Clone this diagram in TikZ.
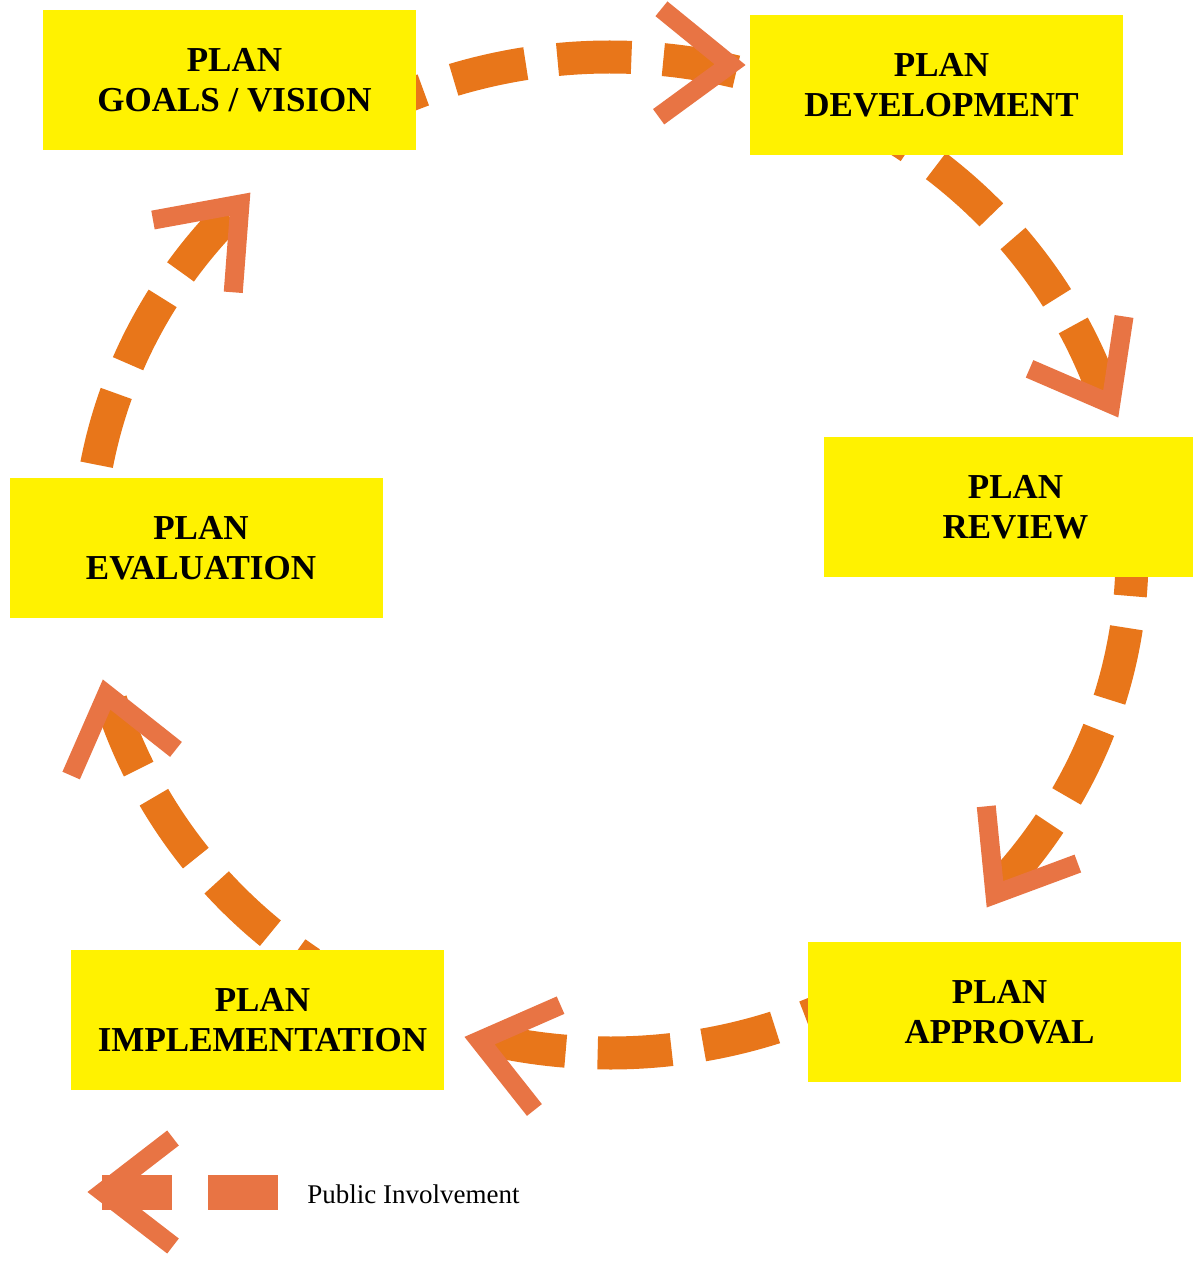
\documentclass[tikz,border=0pt]{standalone}
\usepackage{fontspec}
\setmainfont{Liberation Serif}
\usetikzlibrary{calc}
\definecolor{boxyellow}{RGB}{255,242,0}
\definecolor{dashorange}{RGB}{232,118,26}
\definecolor{headorange}{RGB}{232,116,68}
\newcommand{\rs}{\hspace*{5pt}}
\begin{document}
\begin{tikzpicture}[x=0.5pt,y=-0.5pt,
  box/.style={rectangle, fill=boxyellow, minimum width=186.5pt, minimum height=70pt,
    inner sep=0pt, align=center, font=\fontsize{17.5}{20}\selectfont\bfseries},
  flow/.style={draw=dashorange, line width=16.5pt, dash pattern=on 37pt off 16pt, line cap=butt},
  headline/.style={draw=headorange, line width=9.5pt, line join=miter, line cap=butt, miter limit=10},
  legbar/.style={rectangle, fill=headorange, minimum width=35pt, minimum height=17.5pt, inner sep=0pt},
  vhead/.pic={\draw[headline] (-85,-54) -- (-15,0) -- (-85,54);}
]
\fill[white] (0,0) rectangle (1193,1263);
\useasboundingbox (0,0) rectangle (1193,1263);

\coordinate (c) at (610,555);
% arc end points (near arrow heads); the arcs start hidden under the boxes
\coordinate (e1) at ($(c)+(-76:522 and 498)$);
\coordinate (e2) at ($(c)+(-19:522 and 498)$);
\coordinate (e3) at ($(c)+(41:522 and 498)$);
\coordinate (e4) at ($(c)+(103:522 and 498)$);
\coordinate (e5) at ($(c)+(163:522 and 498)$);
\coordinate (e6) at ($(c)+(223:522 and 498)$);

\draw[flow] (e1) arc[start angle=-76, end angle=-122, x radius=522, y radius=498];
\draw[flow] (e2) arc[start angle=-19, end angle=-62, x radius=522, y radius=498];
\draw[flow] (e3) arc[start angle=41, end angle=-5, x radius=522, y radius=498];
\draw[flow] (e4) arc[start angle=103, end angle=63, x radius=522, y radius=498];
\draw[flow] (e5) arc[start angle=163, end angle=125, x radius=522, y radius=498];
\draw[flow] (e6) arc[start angle=223, end angle=185, x radius=522, y radius=498];

% boxes
\node[box] (goals) at (229.5,80) {\rs PLAN\\\rs GOALS / VISION};
\node[box] (dev) at (936.5,85) {\rs PLAN\\\rs DEVELOPMENT};
\node[box] (review) at (1010.5,507) {\rs PLAN\\\rs REVIEW};
\node[box] (approval) at (994.5,1012) {\rs PLAN\\\rs APPROVAL};
\node[box] (impl) at (257.5,1020) {\rs PLAN\\\rs IMPLEMENTATION};
\node[box] (eval) at (196,548) {\rs PLAN\\\rs EVALUATION};

% arrow heads
\coordinate (t1) at (745,65);
\coordinate (t2) at (1118,417);
\coordinate (t3) at (987,907);
\coordinate (t4) at (465,1037);
\coordinate (t5) at (103,680);
\coordinate (t6) at (250,193);
\pic[rotate=-1.5] at (t1) {vhead};
\pic[rotate=-61] at (t2) {vhead};
\pic[rotate=-122] at (t3) {vhead};
\pic[rotate=166] at (t4) {vhead};
\pic[rotate=104] at (t5) {vhead};
\pic[rotate=48] at (t6) {vhead};

% legend
\node[legbar] (bar1) at (137,1192.5) {};
\node[legbar] (bar2) at (242.5,1192.5) {};
\coordinate (tl) at (88,1192);
\pic[rotate=180] at (tl) {vhead};
\node[anchor=base west, inner sep=0pt, font=\fontsize{13.5}{16}\selectfont] (legtext) at (307,1203) {Public Involvement};
\end{tikzpicture}
\end{document}
